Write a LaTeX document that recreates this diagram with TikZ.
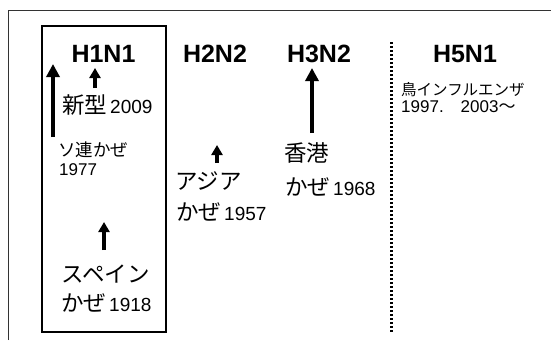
\documentclass[tikz,border=0pt]{standalone}
\usepackage{fontspec}
\setmainfont{Liberation Sans}
\newfontfamily\lat{Liberation Sans}
\newfontfamily\jp{Noto Sans CJK JP}
\usetikzlibrary{arrows.meta}
\tikzset{
  hlabel/.style={anchor=base, inner sep=0pt, font=\lat\bfseries\fontsize{25}{28}\selectfont},
  bigjp/.style={anchor=base west, inner sep=0pt, font=\jp\fontsize{22.5}{26}\selectfont},
  smalljp/.style={anchor=base west, inner sep=0pt, font=\jp\fontsize{17.5}{20}\selectfont},
  birdjp/.style={anchor=base west, inner sep=0pt, font=\jp\fontsize{15.5}{18}\selectfont},
  smallnum/.style={anchor=base west, inner sep=0pt, font=\lat\fontsize{17}{19}\selectfont},
  bigarrow/.style={line width=4pt, -{Triangle[width=13pt,length=13pt]}},
  smallarrow/.style={line width=3.5pt, -{Triangle[width=11pt,length=10pt]}},
  frameline/.style={black!80, line width=1pt},
  groupbox/.style={draw, line width=2pt},
  sep/.style={line width=3pt, dash pattern=on 2.3pt off 1.7pt}
}
\newcommand{\yr}[1]{\hspace{3pt}{\lat\fontsize{19}{21}\selectfont #1}}
\begin{document}
\begin{tikzpicture}[x=1pt,y=-1pt]
\useasboundingbox (0,0) rectangle (551,340);
% outer frame (open)
\coordinate (fl) at (8,340);
\coordinate (ftl) at (8,10);
\coordinate (ftr) at (551,10);
\draw[frameline] (fl) -- (ftl) -- (ftr);
% H1N1 group box
\node[groupbox, minimum width=124pt, minimum height=306pt, inner sep=0pt] (box) at (104,179) {};
% headings
\node[hlabel] (h1) at (103.5,62) {H1N1};
\node[hlabel] (h2) at (215,62) {H2N2};
\node[hlabel] (h3) at (319,62) {H3N2};
\node[hlabel] (h5) at (465,62) {H5N1};
% H1N1 texts
\node[bigjp] (shin) at (62,113) {新型\yr{2009}};
\node[smalljp] (soren) at (58,156) {ソ連かぜ};
\node[smallnum] (y1977) at (59,175) {1977};
\node[bigjp] (spain) at (61,282) {スペイン};
\node[bigjp] (spain2) at (61,311) {かぜ\yr{1918}};
% H2N2 texts
\node[bigjp] (asia) at (175,189) {アジア};
\node[bigjp] (asia2) at (176,220) {かぜ\yr{1957}};
% H3N2 texts
\node[bigjp] (hk) at (284,161) {香港};
\node[bigjp] (hk2) at (285,195) {かぜ\yr{1968}};
% H5N1 texts
\node[birdjp] (bird) at (401,95) {鳥インフルエンザ};
\node[smallnum] (byr) at (401,112) {1997.{\jp 　}2003{\jp ～}};
% arrows
\coordinate (a1s) at (53,137); \coordinate (a1e) at (53,64);
\coordinate (a2s) at (95,88);  \coordinate (a2e) at (95,68);
\coordinate (a3s) at (104,250); \coordinate (a3e) at (104,222);
\coordinate (a4s) at (217,163); \coordinate (a4e) at (217,145);
\coordinate (a5s) at (312,133); \coordinate (a5e) at (312,68);
\draw[bigarrow] (a1s) -- (a1e);
\draw[smallarrow] (a2s) -- (a2e);
\draw[smallarrow] (a3s) -- (a3e);
\draw[smallarrow] (a4s) -- (a4e);
\draw[bigarrow] (a5s) -- (a5e);
% separator
\coordinate (st) at (391,42); \coordinate (sb) at (391,332);
\draw[sep] (st) -- (sb);
\end{tikzpicture}
\end{document}
